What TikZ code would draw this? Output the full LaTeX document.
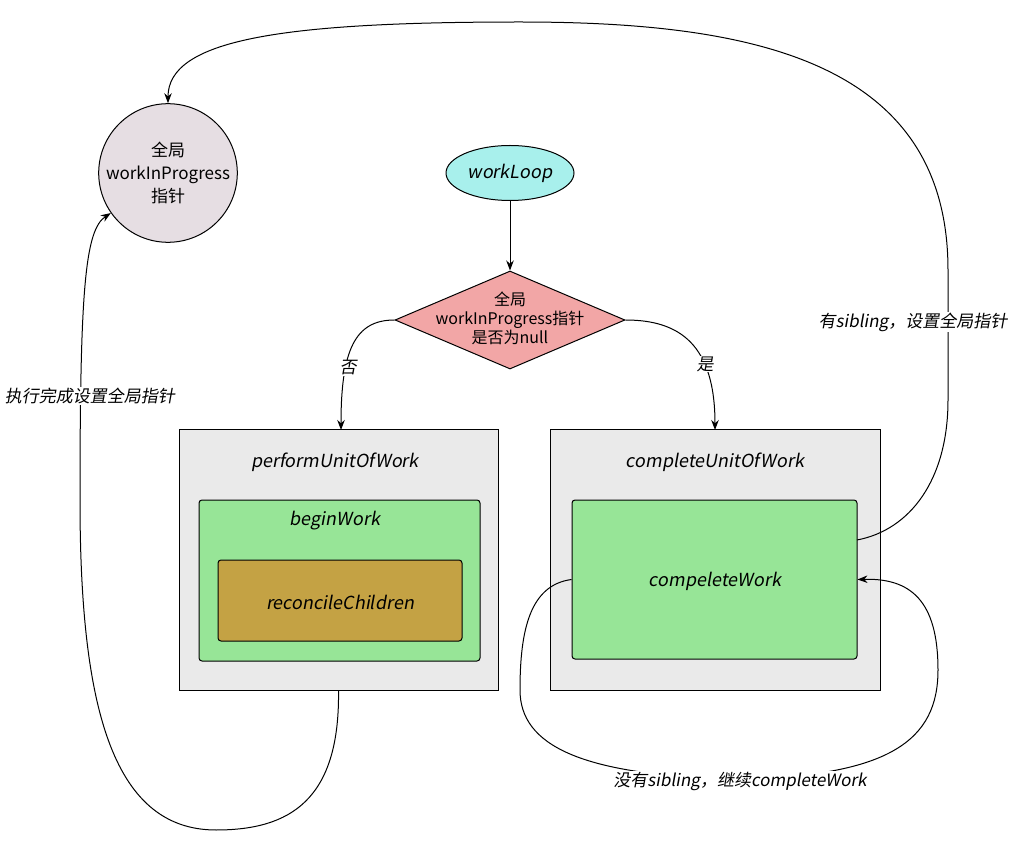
\documentclass[tikz,border=0pt]{standalone}
\usepackage{fontspec}
\setmainfont{Noto Sans CJK SC}
\newfontfamily\hand[FakeSlant=0.18]{Noto Sans CJK SC}
\usetikzlibrary{shapes.geometric,arrows.meta}
\definecolor{circfill}{HTML}{E6DEE3}
\definecolor{loopfill}{HTML}{A8F0EC}
\definecolor{diafill}{HTML}{F2A6A6}
\definecolor{greyfill}{HTML}{EAEAEA}
\definecolor{greenfill}{HTML}{97E597}
\definecolor{recfill}{HTML}{C4A244}
\tikzset{
  shp/.style={draw=black, line width=1pt},
  outerbox/.style={shp, fill=greyfill, inner sep=0pt},
  greenbox/.style={shp, fill=greenfill, rounded corners=3pt, inner sep=0pt},
  recbox/.style={shp, fill=recfill, rounded corners=3pt, inner sep=0pt},
  title/.style={font=\hand\fontsize{18}{21}\selectfont, inner sep=1pt},
  plain/.style={font=\fontsize{16}{20}\selectfont, align=center},
  lbl/.style={font=\hand\fontsize{17}{20}\selectfont, fill=white, inner sep=1pt},
  arr/.style={draw=black, line width=1pt, -{Stealth[length=10pt,width=7.5pt]}},
}
\begin{document}
\begin{tikzpicture}[x=1pt,y=-1pt]
\useasboundingbox (0,0) rectangle (1029,842);
% nodes
\node[shp, circle, fill=circfill, minimum size=126pt, inner sep=0pt, plain, font=\fontsize{17}{23}\selectfont] (ptr) at (168,173) {全局\\workInProgress\\指针};
\node[shp, ellipse, fill=loopfill, minimum width=128pt, minimum height=55pt, inner sep=0pt] (loop) at (510,173) {};
\node[title] (looptxt) at (510,173) {workLoop};
\node[shp, diamond, fill=diafill, minimum width=230pt, minimum height=98pt, inner sep=0pt] (dia) at (510,320) {};
\node[plain, font=\fontsize{16}{19}\selectfont] (diatxt) at (510,318) {全局\\workInProgress指针\\是否为null};
\node[outerbox, minimum width=319pt, minimum height=260pt] (puw) at (338.5,560) {};
\node[title] (puwtxt) at (335,462) {performUnitOfWork};
\node[greenbox, minimum width=281pt, minimum height=161pt] (bw) at (339.5,580.5) {};
\node[title] (bwtxt) at (335,521) {beginWork};
\node[recbox, minimum width=244pt, minimum height=81pt] (rc) at (340,600.5) {};
\node[title] (rctxt) at (340,602) {reconcileChildren};
\node[outerbox, minimum width=330pt, minimum height=260pt] (cuw) at (715,560) {};
\node[title] (cuwtxt) at (715,462) {completeUnitOfWork};
\node[greenbox, minimum width=285pt, minimum height=159pt] (cw) at (714.5,579.5) {};
\node[title] (cwtxt) at (715,581) {compeleteWork};
% connectors
\draw[arr] (loop.south) -- (dia.north);
\draw[arr] (dia.west) .. controls (355,320) and (341,350) .. (341,430);
\node[lbl] (no) at (348,368) {否};
\draw[arr] (dia.east) .. controls (680,320) and (715,345) .. (715,430);
\node[lbl] (yes) at (705,364) {是};
\draw[arr] (857,540) .. controls (910,530) and (948,480) .. (948,400)
  -- (948,270) .. controls (948,60) and (750,22) .. (520,22)
  .. controls (280,22) and (168,40) .. (ptr.north);
\node[lbl] (sib) at (913,322) {有sibling，设置全局指针};
\draw[arr] (puw.south) .. controls (340,800) and (290,830) .. (216,830)
  .. controls (110,830) and (80,700) .. (80,500)
  .. controls (80,290) and (85,230) .. (ptr.215);
\node[lbl] (done) at (90,396) {执行完成设置全局指针};
\draw[arr] (cw.west) .. controls (530,585) and (520,630) .. (520,690)
  .. controls (520,745) and (580,776) .. (740,779)
  .. controls (890,776) and (938,740) .. (938,670)
  .. controls (938,600) and (910,578) .. (cw.east);
\node[lbl] (nosib) at (740,781) {没有sibling，继续completeWork};
\end{tikzpicture}
\end{document}
